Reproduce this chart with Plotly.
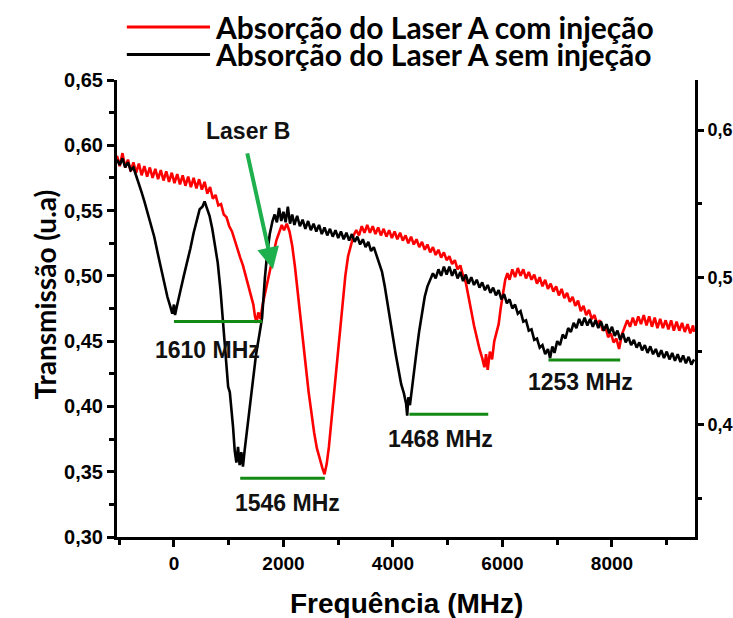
import plotly.graph_objects as go

# ---------------- data ----------------
black_freq = [-1040, -990, -940, -890, -840, -790, -740, -690, -640, -590, -540, -480, -420, -360, -300, -240, -180, -120, -70, -30,
              0, 20, 50, 80, 120, 180, 240, 300, 360, 420, 470, 520, 560, 600, 650, 700, 750, 800, 850, 900,
              950, 990, 1020, 1050, 1080, 1110, 1140, 1170, 1200, 1230, 1260, 1290, 1330, 1380, 1440, 1500, 1560, 1610, 1660, 1700,
              1750, 1800, 1840, 1880, 1920, 1960, 2000, 2040, 2080, 2120, 2160, 2200, 2250, 2300, 2350, 2400, 2450, 2500, 2550, 2600,
              2650, 2700, 2750, 2800, 2850, 2900, 2950, 3000, 3050, 3100, 3150, 3200, 3250, 3300, 3350, 3400, 3450, 3500, 3550, 3600,
              3650, 3700, 3750, 3800, 3850, 3900, 3950, 4000, 4050, 4100, 4150, 4200, 4240, 4260, 4280, 4310, 4340, 4380, 4430, 4480,
              4530, 4580, 4630, 4680, 4730, 4780, 4830, 4880, 4930, 4980, 5030, 5080, 5130, 5180, 5230, 5280, 5330, 5380, 5430, 5480,
              5530, 5580, 5630, 5680, 5730, 5780, 5830, 5880, 5930, 5980, 6030, 6080, 6130, 6180, 6230, 6280, 6330, 6380, 6430, 6480,
              6530, 6580, 6630, 6680, 6730, 6780, 6830, 6870, 6910, 6950, 7000, 7050, 7100, 7150, 7200, 7250, 7300, 7350, 7400, 7450,
              7500, 7550, 7600, 7650, 7700, 7750, 7800, 7850, 7900, 7950, 8000, 8050, 8100, 8150, 8200, 8250, 8300, 8350, 8400, 8450,
              8500, 8550, 8600, 8650, 8700, 8750, 8800, 8850, 8900, 8950, 9000, 9050, 9100, 9150, 9200, 9250, 9300, 9350, 9400, 9450, 9500]
black_trans = [0.589, 0.585, 0.590, 0.583, 0.587, 0.581, 0.583, 0.577, 0.571, 0.564, 0.557, 0.548, 0.539, 0.530, 0.518, 0.506, 0.494, 0.484, 0.477, 0.471,
               0.478, 0.470, 0.476, 0.481, 0.489, 0.500, 0.510, 0.521, 0.533, 0.544, 0.551, 0.553, 0.557, 0.552, 0.546, 0.536, 0.524, 0.510, 0.489, 0.463,
               0.432, 0.415, 0.411, 0.400, 0.384, 0.366, 0.357, 0.369, 0.355, 0.365, 0.354, 0.366, 0.381, 0.398, 0.420, 0.440, 0.455, 0.468, 0.498, 0.516,
               0.532, 0.542, 0.547, 0.541, 0.552, 0.542, 0.549, 0.541, 0.553, 0.540, 0.547, 0.539, 0.546, 0.538, 0.543, 0.536, 0.542, 0.535, 0.540, 0.534,
               0.539, 0.532, 0.537, 0.531, 0.536, 0.530, 0.535, 0.529, 0.534, 0.528, 0.533, 0.527, 0.532, 0.526, 0.530, 0.524, 0.528, 0.522, 0.526, 0.519,
               0.522, 0.515, 0.510, 0.503, 0.492, 0.480, 0.467, 0.453, 0.440, 0.428, 0.417, 0.410, 0.402, 0.393, 0.407, 0.401, 0.412, 0.425, 0.442, 0.458,
               0.472, 0.484, 0.492, 0.497, 0.502, 0.498, 0.505, 0.500, 0.507, 0.501, 0.507, 0.500, 0.505, 0.498, 0.503, 0.496, 0.501, 0.494, 0.499, 0.493,
               0.497, 0.491, 0.495, 0.489, 0.493, 0.487, 0.491, 0.485, 0.489, 0.482, 0.486, 0.479, 0.482, 0.475, 0.478, 0.471, 0.473, 0.465, 0.466, 0.458,
               0.459, 0.451, 0.452, 0.445, 0.447, 0.440, 0.444, 0.437, 0.446, 0.441, 0.450, 0.447, 0.455, 0.452, 0.460, 0.457, 0.464, 0.460, 0.467, 0.462,
               0.468, 0.462, 0.467, 0.461, 0.466, 0.460, 0.465, 0.458, 0.463, 0.456, 0.461, 0.454, 0.458, 0.451, 0.456, 0.449, 0.453, 0.447, 0.451, 0.445,
               0.449, 0.443, 0.447, 0.441, 0.446, 0.440, 0.444, 0.438, 0.443, 0.437, 0.442, 0.436, 0.441, 0.435, 0.440, 0.434, 0.439, 0.433, 0.438, 0.432, 0.436]

red_freq = [-1040, -990, -940, -890, -840, -790, -740, -690, -640, -590, -540, -490, -440, -390, -340, -290, -240, -190, -140, -90,
            -40, 10, 60, 110, 160, 210, 260, 310, 360, 410, 460, 510, 560, 610, 660, 710, 760, 810, 860, 910,
            960, 1010, 1060, 1110, 1160, 1210, 1260, 1310, 1360, 1410, 1450, 1480, 1510, 1540, 1580, 1620, 1670, 1720, 1770, 1820,
            1870, 1920, 1970, 2010, 2060, 2110, 2160, 2210, 2260, 2310, 2360, 2410, 2460, 2510, 2560, 2610, 2660, 2710, 2750, 2790,
            2830, 2880, 2930, 2980, 3030, 3080, 3130, 3180, 3230, 3280, 3330, 3380, 3430, 3480, 3530, 3580, 3630, 3680, 3730, 3780,
            3830, 3880, 3930, 3980, 4030, 4080, 4130, 4180, 4230, 4280, 4330, 4380, 4430, 4480, 4530, 4580, 4630, 4680, 4730, 4780,
            4830, 4880, 4930, 4980, 5030, 5080, 5130, 5180, 5230, 5280, 5330, 5380, 5430, 5480, 5530, 5580, 5630, 5670, 5700, 5730,
            5770, 5810, 5850, 5890, 5930, 5970, 6010, 6050, 6090, 6130, 6180, 6230, 6280, 6330, 6380, 6430, 6480, 6530, 6580, 6630,
            6680, 6730, 6780, 6830, 6880, 6930, 6980, 7030, 7080, 7130, 7180, 7230, 7280, 7330, 7380, 7430, 7480, 7530, 7580, 7630,
            7680, 7730, 7780, 7830, 7880, 7930, 7980, 8030, 8080, 8130, 8180, 8230, 8280, 8330, 8380, 8430, 8480, 8530, 8580, 8630,
            8680, 8730, 8780, 8830, 8880, 8930, 8980, 9030, 9080, 9130, 9180, 9230, 9280, 9330, 9380, 9430, 9480, 9500]
red_trans = [0.592, 0.584, 0.594, 0.583, 0.589, 0.580, 0.587, 0.579, 0.586, 0.577, 0.584, 0.576, 0.583, 0.575, 0.582, 0.574, 0.581, 0.573, 0.580, 0.572,
             0.579, 0.571, 0.578, 0.570, 0.577, 0.569, 0.576, 0.568, 0.575, 0.567, 0.574, 0.566, 0.572, 0.563, 0.568, 0.559, 0.562, 0.554, 0.555, 0.547,
             0.545, 0.538, 0.534, 0.527, 0.521, 0.514, 0.508, 0.500, 0.494, 0.485, 0.478, 0.469, 0.464, 0.472, 0.467, 0.478, 0.488, 0.497, 0.507, 0.517,
             0.527, 0.533, 0.539, 0.535, 0.540, 0.534, 0.523, 0.507, 0.489, 0.470, 0.450, 0.430, 0.411, 0.394, 0.380, 0.368, 0.360, 0.353, 0.348, 0.356,
             0.369, 0.390, 0.414, 0.437, 0.457, 0.478, 0.500, 0.515, 0.524, 0.531, 0.535, 0.531, 0.538, 0.533, 0.539, 0.533, 0.538, 0.532, 0.537, 0.531,
             0.536, 0.530, 0.535, 0.529, 0.534, 0.528, 0.533, 0.527, 0.531, 0.525, 0.530, 0.524, 0.528, 0.522, 0.526, 0.520, 0.524, 0.518, 0.522, 0.516,
             0.520, 0.514, 0.518, 0.512, 0.515, 0.509, 0.512, 0.505, 0.508, 0.500, 0.495, 0.485, 0.473, 0.462, 0.452, 0.444, 0.437, 0.430, 0.440, 0.428,
             0.442, 0.436, 0.450, 0.456, 0.463, 0.476, 0.488, 0.497, 0.502, 0.497, 0.505, 0.499, 0.506, 0.500, 0.505, 0.498, 0.503, 0.497, 0.501, 0.494,
             0.499, 0.492, 0.497, 0.490, 0.494, 0.488, 0.492, 0.485, 0.490, 0.483, 0.487, 0.480, 0.484, 0.477, 0.481, 0.473, 0.477, 0.470, 0.474, 0.467,
             0.470, 0.463, 0.466, 0.458, 0.461, 0.453, 0.456, 0.449, 0.452, 0.444, 0.455, 0.460, 0.466, 0.461, 0.468, 0.462, 0.469, 0.463, 0.470, 0.462,
             0.469, 0.461, 0.468, 0.460, 0.467, 0.460, 0.466, 0.459, 0.466, 0.458, 0.465, 0.458, 0.464, 0.457, 0.463, 0.456, 0.462, 0.457]

series_names = ["Absorção do Laser A com injeção", "Absorção do Laser A sem injeção"]

# spacing bars (start, end, level) and labels
bar_start = [0, 1210, 4300, 6840]
bar_end = [1610, 2756, 5740, 8150]
bar_level = [0.465, 0.345, 0.394, 0.4355]
bar_labels = ["1610 MHz", "1546 MHz", "1468 MHz", "1253 MHz"]
label_freq = [620, 2080, 4860, 7420]
label_trans = [0.443, 0.326, 0.375, 0.419]

# "Laser B" arrow
arrow_tail = (1333, 0.595)
arrow_tip = (1808, 0.505)
laser_b_text = "Laser B"
laser_b_pos = (1351, 0.611)
marker_point = (1680, 0.517)

x_range = [-1040, 9516]
y_range = [0.30, 0.65]
y2_range = [0.324, 0.634]

# ---------------- figure ----------------
TICKFONT = dict(family="Liberation Sans, Arial", size=19, color="black", weight="bold")
LEGENDFONT = "Lato, Open Sans"
TITLEFONT = "Lato, Liberation Sans"

fig = go.Figure()
fig.add_trace(go.Scatter(x=red_freq, y=red_trans, mode="lines", name=series_names[0],
                         line=dict(color="#ff0000", width=2.6), showlegend=False))
fig.add_trace(go.Scatter(x=black_freq, y=black_trans, mode="lines", name=series_names[1],
                         line=dict(color="#000000", width=2.6), showlegend=False))
fig.add_trace(go.Scatter(x=[marker_point[0]], y=[marker_point[1]], mode="markers",
                         marker=dict(color="#ff33ff", size=5), showlegend=False, hoverinfo="skip"))
fig.add_trace(go.Scatter(x=[None], y=[None], yaxis="y2", showlegend=False, hoverinfo="skip"))

shapes = []
for s, e, lv in zip(bar_start, bar_end, bar_level):
    shapes.append(dict(type="line", xref="x", yref="y", x0=s, x1=e, y0=lv, y1=lv,
                       line=dict(color="#138a13", width=3)))

# manual legend (long sample lines)
legend_colors = ["#ff0000", "#000000"]
legend_y = [1.116, 1.056]
for c, ly in zip(legend_colors, legend_y):
    shapes.append(dict(type="line", xref="paper", yref="paper", x0=0.017, x1=0.161, y0=ly, y1=ly,
                       line=dict(color=c, width=3)))

annotations = []
for name, ly in zip(series_names, legend_y):
    annotations.append(dict(xref="paper", yref="paper", x=0.166, y=ly, xanchor="left", yanchor="middle",
                            text=name, showarrow=False,
                            font=dict(family=LEGENDFONT, size=30, color="black", weight="bold")))

for t, lx, ly in zip(bar_labels, label_freq, label_trans):
    annotations.append(dict(x=lx, y=ly, xref="x", yref="y", text=t, showarrow=False,
                            font=dict(family="Liberation Sans, Arial", size=23, color="#111111", weight="bold")))

annotations.append(dict(x=arrow_tip[0], y=arrow_tip[1], ax=arrow_tail[0], ay=arrow_tail[1],
                        xref="x", yref="y", axref="x", ayref="y", text="", showarrow=True,
                        arrowhead=2, arrowsize=1.1, arrowwidth=4, arrowcolor="#1fb04e"))
annotations.append(dict(x=laser_b_pos[0], y=laser_b_pos[1], xref="x", yref="y", text=laser_b_text,
                        showarrow=False,
                        font=dict(family="Liberation Sans, Arial", size=23, color="#111111", weight="bold")))

# axis titles
annotations.append(dict(xref="paper", yref="paper", x=0.5, y=-0.146, xanchor="center", yanchor="middle",
                        text="Frequência (MHz)", showarrow=False,
                        font=dict(family="Liberation Sans, Arial", size=28, color="black", weight="bold")))
annotations.append(dict(xref="paper", yref="paper", x=-0.125, y=0.53, xanchor="center", yanchor="middle",
                        text="Transmissão (u.a)", showarrow=False, textangle=-90,
                        font=dict(family=TITLEFONT, size=28, color="black", weight="bold")))

fig.update_layout(
    width=733, height=618,
    margin=dict(l=117, r=38, t=80, b=81, autoexpand=False),
    paper_bgcolor="white", plot_bgcolor="white",
    separators=",.",
    shapes=shapes,
    annotations=annotations,
    xaxis=dict(range=x_range, showgrid=False, zeroline=False, showline=True, linecolor="black", linewidth=3,
               automargin=False,
               ticks="outside", ticklen=7, tickwidth=2.5, tickcolor="black", tick0=0, dtick=2000,
               tickfont=TICKFONT, minor=dict(dtick=1000, ticks="outside", ticklen=5, tickwidth=2.5, tickcolor="black")),
    yaxis=dict(range=y_range, showgrid=False, zeroline=False, showline=True, linecolor="black", linewidth=3,
               automargin=False,
               ticks="outside", ticklen=7, tickwidth=2.5, tickcolor="black", tick0=0.3, dtick=0.05, tickformat=".2f",
               tickfont=dict(family="Liberation Sans, Arial", size=20, color="black", weight="bold"),
               minor=dict(dtick=0.025, ticks="outside", ticklen=5, tickwidth=2.5, tickcolor="black")),
    yaxis2=dict(range=y2_range, overlaying="y", side="right", anchor="x", showgrid=False, zeroline=False,
                showline=True, linecolor="black", linewidth=3, automargin=False,
                ticks="outside", ticklen=6, tickwidth=2.5, tickcolor="black", tick0=0.4, dtick=0.1, tickformat=".1f",
                tickfont=dict(family="Liberation Sans, Arial", size=18, color="black", weight="bold"),
                minor=dict(dtick=0.05, ticks="outside", ticklen=4, tickwidth=2.5, tickcolor="black")),
)

fig.write_html("out.html")
